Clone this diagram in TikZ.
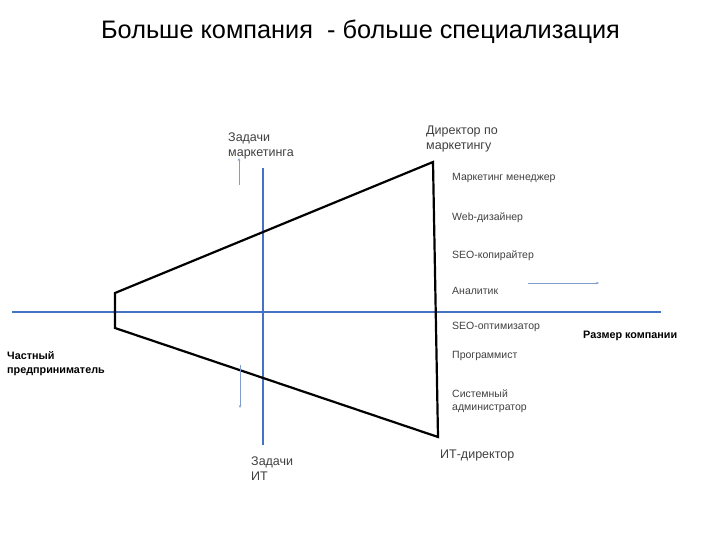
\documentclass[tikz,border=0pt]{standalone}
\usepackage{fontspec}
\setmainfont{Liberation Sans}
\usetikzlibrary{arrows.meta}
\definecolor{axisblue}{HTML}{4472C4}
\definecolor{thinblue}{HTML}{7F9CCF}
\definecolor{labelgray}{HTML}{404040}
\begin{document}
\begin{tikzpicture}[x=1pt,y=-1pt,
  lbl/.style={anchor=west,inner sep=0pt,align=left,text=labelgray,font=\fontsize{10.5}{13}\selectfont},
  midlbl/.style={anchor=west,inner sep=0pt,align=left,text=labelgray,font=\fontsize{12.5}{15}\selectfont},
  boldlbl/.style={anchor=west,inner sep=0pt,align=left,text=black,font=\bfseries\fontsize{10.8}{14}\selectfont},
  axis/.style={draw=axisblue,line width=2pt},
  thinarrow/.style={draw=thinblue,line width=0.9pt,-{Stealth[length=3pt,width=2.5pt]}},
  trap/.style={draw=black,line width=2.2pt,line join=miter}]
\useasboundingbox (0,0) rectangle (720,540);
\node[anchor=center,inner sep=0pt,font=\fontsize{25.3}{30}\selectfont] (title) at (360.5,32) {Больше компания\ \ - больше специализация};
% axes
\coordinate (hL) at (12,312);
\coordinate (hR) at (661,312);
\coordinate (vT) at (263,168);
\coordinate (vB) at (263,445);
\draw[axis] (hL) -- (hR);
\draw[axis] (vT) -- (vB);
% trapezoid
\coordinate (tl) at (115,293);
\coordinate (tr) at (433,162);
\coordinate (br) at (438,437);
\coordinate (bl) at (115,328);
\draw[trap] (tl) -- (tr) -- (br) -- (bl) -- cycle;
% thin arrows
\coordinate (a1s) at (239,185);
\coordinate (a1e) at (239,158);
\coordinate (a2s) at (240,365);
\coordinate (a2e) at (240,408);
\coordinate (a3s) at (528,283);
\coordinate (a3e) at (599,283);
\draw[thinarrow] (a1s) -- (a1e);
\draw[thinarrow] (a2s) -- (a2e);
\draw[thinarrow] (a3s) -- (a3e);
% labels
\node[midlbl] (zm) at (228,145.5) {Задачи\\маркетинга};
\node[midlbl] (dm) at (426,138.5) {Директор по\\маркетингу};
\node[lbl] (mm) at (452,178) {Маркетинг менеджер};
\node[lbl] (wd) at (452,218) {Web-дизайнер};
\node[lbl] (sk) at (452,256) {SEO-копирайтер};
\node[lbl] (an) at (452,291) {Аналитик};
\node[lbl] (so) at (452,327) {SEO-оптимизатор};
\node[lbl] (pr) at (452,356) {Программист};
\node[lbl] (sa) at (452,401.5) {Системный\\администратор};
\node[midlbl] (itd) at (440,455) {ИТ-директор};
\node[midlbl] (zit) at (251,468.5) {Задачи\\ИТ};
\node[boldlbl] (cp) at (7,364) {Частный\\предприниматель};
\node[boldlbl] (rk) at (583,336) {Размер компании};
\end{tikzpicture}
\end{document}
